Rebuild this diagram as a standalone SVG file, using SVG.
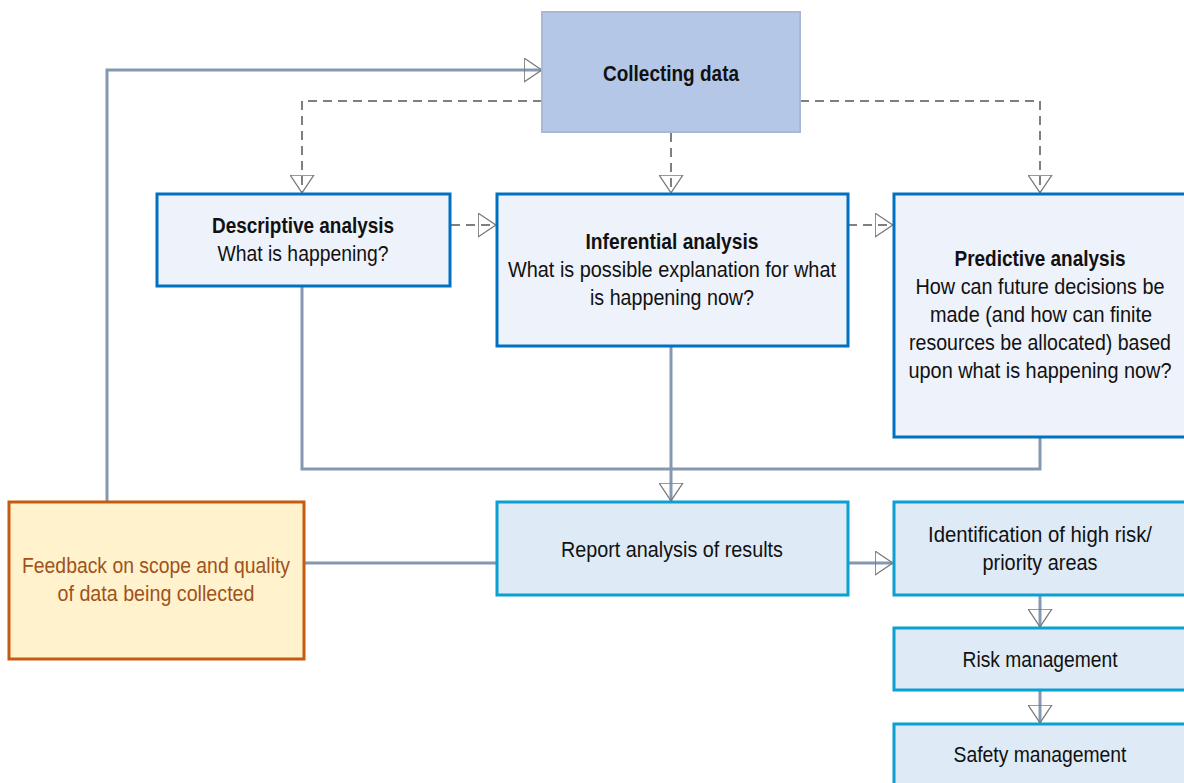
<svg xmlns="http://www.w3.org/2000/svg" width="1184" height="783" viewBox="0 0 1184 783">
<style>
  text { font-family: "Liberation Sans Narrow", "Liberation Sans", Arial, sans-serif; font-size: 22px; fill: #111111; text-anchor: middle; }
  .b { font-weight: bold; }
  .fb { fill: #a0521c; }
  .top { fill: #b4c7e7; stroke: #a9b9d3; stroke-width: 2; }
  .ana { fill: #eef2fa; stroke: #0070c0; stroke-width: 3; }
  .res { fill: #deeaf6; stroke: #0aa0d2; stroke-width: 3; }
  .feed { fill: #fff2cc; stroke: #c55a11; stroke-width: 3; }
  .c { fill: none; stroke: #8597b1; stroke-width: 3; }
  .d { fill: none; stroke: #7f7f7f; stroke-width: 2; stroke-dasharray: 9 6; }
</style>
<defs>
  <marker id="tri" viewBox="0 0 19 25" refX="18.5" refY="12.5" markerWidth="19" markerHeight="25" markerUnits="userSpaceOnUse" orient="auto">
    <path d="M0.7,0.7 L18.3,12.5 L0.7,24.3 Z" fill="none" stroke="#7a7a7a" stroke-width="1.3" stroke-dasharray="none"/>
  </marker>
</defs>
<rect width="1184" height="783" fill="#ffffff"/>

<g id="connectors">
  <path class="c" d="M107,501 V70 H542" marker-end="url(#tri)"/>
  <path class="c" d="M302,287 V469 H1040 V438"/>
  <path class="c" d="M671,347 V501" marker-end="url(#tri)"/>
  <path class="c" d="M304,563 H496"/>
  <path class="c" d="M848,563 H893" marker-end="url(#tri)"/>
  <path class="c" d="M1040,595 V627" marker-end="url(#tri)"/>
  <path class="c" d="M1040,691 V723" marker-end="url(#tri)"/>
  <path class="d" d="M542,101 H302 V193" marker-end="url(#tri)"/>
  <path class="d" d="M671,133 V193" marker-end="url(#tri)"/>
  <path class="d" d="M800,101 H1040 V193" marker-end="url(#tri)"/>
  <path class="d" d="M451,225 H496" marker-end="url(#tri)"/>
  <path class="d" d="M848,225 H893" marker-end="url(#tri)"/>
</g>

<g id="collecting">
  <rect class="top" x="542" y="12" width="258" height="120"/>
  <text class="b" x="671" y="81" textLength="136" lengthAdjust="spacingAndGlyphs">Collecting data</text>
</g>

<g id="descriptive">
  <rect class="ana" x="157" y="194" width="293" height="92"/>
  <text class="b" x="303" y="233" textLength="182" lengthAdjust="spacingAndGlyphs">Descriptive analysis</text>
  <text x="303" y="261" textLength="171" lengthAdjust="spacingAndGlyphs">What is happening?</text>
</g>

<g id="inferential">
  <rect class="ana" x="497" y="194" width="351" height="152"/>
  <text class="b" x="672" y="249" textLength="173" lengthAdjust="spacingAndGlyphs">Inferential analysis</text>
  <text x="672" y="277" textLength="328" lengthAdjust="spacingAndGlyphs">What is possible explanation for what</text>
  <text x="672" y="305" textLength="164" lengthAdjust="spacingAndGlyphs">is happening now?</text>
</g>

<g id="predictive">
  <rect class="ana" x="894" y="194" width="296" height="243"/>
  <text class="b" x="1040" y="266" textLength="171" lengthAdjust="spacingAndGlyphs">Predictive analysis</text>
  <text x="1040" y="294" textLength="249" lengthAdjust="spacingAndGlyphs">How can future decisions be</text>
  <text x="1041" y="322" textLength="222" lengthAdjust="spacingAndGlyphs">made (and how can finite</text>
  <text x="1040" y="350" textLength="262" lengthAdjust="spacingAndGlyphs">resources be allocated) based</text>
  <text x="1040" y="378" textLength="263" lengthAdjust="spacingAndGlyphs">upon what is happening now?</text>
</g>

<g id="report">
  <rect class="res" x="497" y="502" width="351" height="93"/>
  <text x="672" y="557" textLength="222" lengthAdjust="spacingAndGlyphs">Report analysis of results</text>
</g>

<g id="feedback">
  <rect class="feed" x="9" y="502" width="295" height="157"/>
  <text class="fb" x="156" y="573" textLength="268" lengthAdjust="spacingAndGlyphs">Feedback on scope and quality</text>
  <text class="fb" x="156" y="601" textLength="197" lengthAdjust="spacingAndGlyphs">of data being collected</text>
</g>

<g id="identification">
  <rect class="res" x="894" y="502" width="296" height="93"/>
  <text x="1040" y="542" textLength="224" lengthAdjust="spacingAndGlyphs">Identification of high risk/</text>
  <text x="1040" y="570" textLength="115" lengthAdjust="spacingAndGlyphs">priority areas</text>
</g>

<g id="risk">
  <rect class="res" x="894" y="628" width="296" height="62"/>
  <text x="1040" y="667" textLength="155" lengthAdjust="spacingAndGlyphs">Risk management</text>
</g>

<g id="safety">
  <rect class="res" x="894" y="724" width="296" height="70"/>
  <text x="1040" y="762" textLength="173" lengthAdjust="spacingAndGlyphs">Safety management</text>
</g>
</svg>
